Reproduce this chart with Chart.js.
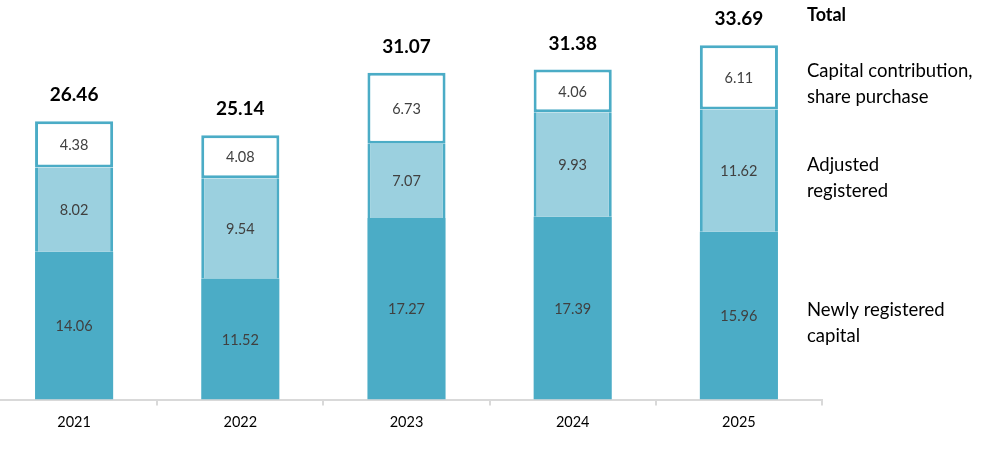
<!DOCTYPE html>
<html>
<head>
<meta charset="utf-8">
<script src="https://cdn.jsdelivr.net/npm/chart.js@4"></script>
<style>
    html, body { margin: 0; padding: 0; background: #fff; overflow: hidden; }
    #wrap { position: relative; width: 990px; height: 455px; overflow: hidden; }
    /* canvas sedikit digeser ke kiri supaya batang pertama pas */
    #myChart { position: absolute; left: -9px; top: 0; }
</style>
</head>
<body>
<div id="wrap"><canvas id="myChart" width="999" height="455"></canvas></div>
<script>
// data dari gambar
const years = ["2021", "2022", "2023", "2024", "2025"];
const newlyRegistered = [14.06, 11.52, 17.27, 17.39, 15.96];
const adjustedRegistered = [8.02, 9.54, 7.07, 9.93, 11.62];
const capitalContribution = [4.38, 4.08, 6.73, 4.06, 6.11];
const totals = [26.46, 25.14, 31.07, 31.38, 33.69];
const seriesNames = [
    ["Newly registered", "capital"],
    ["Adjusted", "registered"],
    ["Capital contribution,", "share purchase"],
];
const totalName = "Total";

const FONT = "Lato, 'Open Sans', sans-serif";
const TEAL = "#4BACC6";

// label angka di dalam batang + total + keterangan di kanan
const labelPlugin = {
    id: "labelPlugin",
    afterDatasetsDraw(chart) {
        const ctx = chart.ctx;
        ctx.save();
        ctx.textAlign = "center";
        ctx.textBaseline = "middle";
        ctx.font = "14.5px " + FONT;
        ctx.fillStyle = "#404040";
        chart.data.datasets.forEach((ds, i) => {
            chart.getDatasetMeta(i).data.forEach((bar, j) => {
                const mid = (bar.y + bar.base) / 2;
                ctx.fillText(ds.data[j].toFixed(2), bar.x, mid + 1);
            });
        });
        // total di atas batang
        const topMeta = chart.getDatasetMeta(chart.data.datasets.length - 1);
        ctx.font = "bold 19px " + FONT;
        ctx.fillStyle = "#000";
        topMeta.data.forEach((bar, j) => {
            ctx.fillText(totals[j].toFixed(2), bar.x, bar.y - 26);
        });
        // keterangan seri di samping batang terakhir
        const lastIdx = years.length - 1;
        const legendX = chart.chartArea.right - 15;
        ctx.textAlign = "left";
        ctx.font = "18.5px " + FONT;
        chart.data.datasets.forEach((ds, i) => {
            const bar = chart.getDatasetMeta(i).data[lastIdx];
            const mid = (bar.y + bar.base) / 2 + 7;
            const lines = seriesNames[i];
            lines.forEach((line, k) => {
                ctx.fillText(line, legendX, mid + (k - (lines.length - 1) / 2) * 26);
            });
        });
        ctx.font = "bold 18px " + FONT;
        ctx.fillText(totalName, legendX, topMeta.data[lastIdx].y - 30);
        ctx.restore();
    },
};

new Chart(document.getElementById("myChart"), {
    type: "bar",
    data: {
        labels: years,
        datasets: [
            {
                label: "Newly registered capital",
                data: newlyRegistered,
                backgroundColor: TEAL,
                borderColor: TEAL,
                borderWidth: 0,
            },
            {
                label: "Adjusted registered",
                data: adjustedRegistered,
                backgroundColor: "#9BD0DF",
                borderColor: TEAL,
                borderWidth: { left: 3, right: 3, top: 0, bottom: 0 },
                borderSkipped: false,
            },
            {
                label: "Capital contribution, share purchase",
                data: capitalContribution,
                backgroundColor: "#FFFFFF",
                borderColor: TEAL,
                borderWidth: 3,
                borderSkipped: false,
            },
        ],
    },
    options: {
        responsive: false,
        animation: false,
        categoryPercentage: 1,
        barPercentage: 0.47,
        layout: { padding: { top: 0, right: 168, bottom: 16, left: 0 } },
        plugins: {
            legend: { display: false },
            tooltip: { enabled: false },
        },
        scales: {
            x: {
                stacked: true,
                grid: {
                    display: true,
                    offset: true,
                    drawOnChartArea: false,
                    drawTicks: true,
                    tickLength: 6,
                    color: "#D9D9D9",
                    lineWidth: 2,
                },
                border: { display: true, color: "#D9D9D9", width: 2 },
                ticks: {
                    color: "#000",
                    font: { family: FONT, size: 14.5 },
                    padding: 8,
                },
            },
            y: {
                stacked: true,
                display: false,
                min: 0,
                max: 38,
            },
        },
    },
    plugins: [labelPlugin],
});
</script>
</body>
</html>
